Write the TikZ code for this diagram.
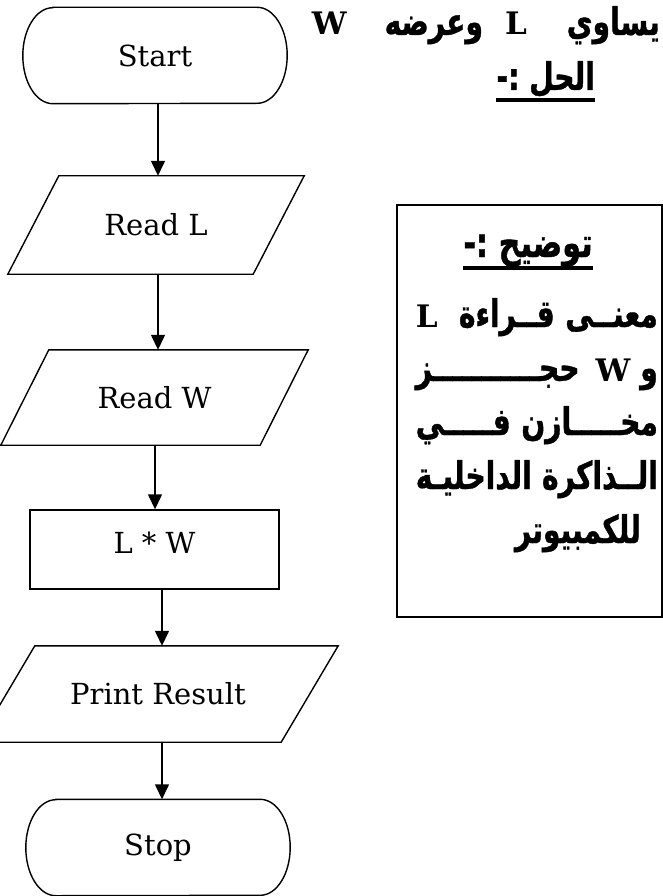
\documentclass[tikz,border=0pt]{standalone}
\usepackage{fontspec}
\setmainfont{DejaVu Serif}
\newfontfamily\arabicfont[Script=Arabic, FakeStretch=0.74, BoldFeatures={FakeBold=1}]{DejaVu Sans}
\TeXXeTstate=1
\usetikzlibrary{arrows.meta}

% bold latin letters inside the arabic lines
\newcommand\latn[1]{{\rmfamily\bfseries\fontsize{31}{36}\selectfont #1}}
% one stretched line of the note, right to left
\newcommand\noteline[1]{\hbox to 242pt{\beginR #1\endR}}

\begin{document}
\begin{tikzpicture}[x=1pt, y=-1pt,
    chart/.style={inner sep=0pt, font=\fontsize{29}{34}\selectfont},
    outline/.style={line width=1.4pt, line join=miter},
    flow/.style={line width=1.4pt, -{Triangle[length=15pt,width=14pt]}},
    ar/.style={inner sep=0pt, font=\arabicfont\bfseries\fontsize{38}{54}\selectfont}]
  \useasboundingbox (0,0) rectangle (663,896);
  \clip (0,0) rectangle (663,896);

  % Flowchart nodes (outlines drawn afterwards)
  \node[chart, minimum width=264pt, minimum height=96pt] (start) at (155,55.5) {Start};
  \node[chart, minimum width=245pt, minimum height=98pt] (readl) at (156,225) {Read L};
  \node[chart, minimum width=259pt, minimum height=95pt] (readw) at (154.5,397.5) {Read W};
  \node[chart, draw, outline, minimum width=249pt, minimum height=79pt,
        text height=22pt, text depth=15pt] (lw) at (154.5,549.5) {L * W};
  \node[chart, minimum width=303pt, minimum height=96pt] (print) at (158,694) {Print Result};
  \node[chart, minimum width=264pt, minimum height=96pt] (stop) at (158,847.5) {Stop};

  % Terminators with elliptic ends
  \foreach \n in {start,stop}
    \draw[outline] ([xshift=30pt]\n.north west) -- ([xshift=-30pt]\n.north east)
      arc[start angle=90, end angle=-90, x radius=30pt, y radius=48pt]
      -- ([xshift=30pt]\n.south west)
      arc[start angle=-90, end angle=-270, x radius=30pt, y radius=48pt] -- cycle;

  % Input/output parallelograms
  \foreach \n/\s in {readl/25.5, readw/24, print/28.5}
    \draw[outline] ([xshift=\s pt]\n.north west) -- ([xshift=\s pt]\n.north east)
      -- ([xshift=-\s pt]\n.south east) -- ([xshift=-\s pt]\n.south west) -- cycle;

  % Arrows
  \foreach \a/\b/\dx in {start/readl/3, readl/readw/2, readw/lw/0.5, lw/print/7.5, print/stop/4}
    \draw[flow] ([xshift=\dx pt]\a.south) -- ([xshift=\dx pt]\a.south |- \b.north);

  % Question text at the top
  \node[ar, anchor=base east] (task) at (660,35)
    {\beginR يساوي\hspace{40pt}\latn{L}\hspace{22pt}وعرضه\hspace{38pt}\latn{W}\endR};
  \node[ar, anchor=base east] (sol) at (595,90) {\beginR الحل :-\endR};
  \draw[line width=4.5pt] ([yshift=-10pt]sol.base west) -- ([yshift=-10pt]sol.base east);

  % Note box
  \node[draw, line width=1.6pt, minimum width=265pt, minimum height=412pt] (note) at (529.5,411) {};
  \node[ar, anchor=base, font=\arabicfont\bfseries\fontsize{41}{54}\selectfont] (notehead) at (528,257)
    {\beginR توضيح :-\endR};
  \draw[line width=3.5pt] ([yshift=-11pt]notehead.base west) -- ([yshift=-11pt]notehead.base east);

  \node[ar, anchor=base east] (line1) at (658,327)
    {\noteline{معنــى\hfill قــراءة\hfill\hfill\latn{L}}};
  \node[ar, anchor=base east] (line2) at (658,381)
    {\noteline{و \latn{W}\hfill حجـــــــــــز}};
  \node[ar, anchor=base east] (line3) at (658,435)
    {\noteline{مخـــــازن\hfill فـــــي}};
  \node[ar, anchor=base east] (line4) at (658,489)
    {\noteline{الــذاكرة\hfill الداخليـة}};
  \node[ar, anchor=base east] (line5) at (641,543) {\beginR للكمبيوتر\endR};
\end{tikzpicture}
\end{document}
